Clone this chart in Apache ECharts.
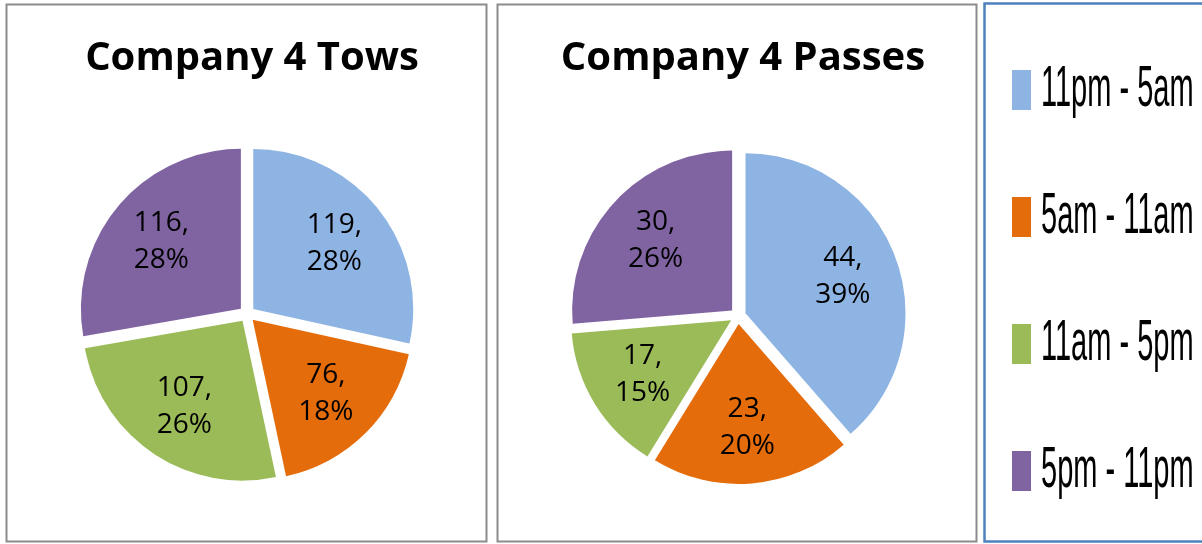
<!DOCTYPE html>
<html>
<head>
    <meta charset="utf-8">
    <title>Company 4 Tows / Passes</title>
    <script src="https://cdn.jsdelivr.net/npm/echarts@6/dist/echarts.min.js"></script>
    <style>
        html, body { margin: 0; padding: 0; background: #fff; }
        #chart-container { width: 1202px; height: 544px; }
    </style>
</head>
<body>
<div id="chart-container"></div>
<script>
    // data
    var categories = ['11pm - 5am', '5am - 11am', '11am - 5pm', '5pm - 11pm'];
    var towsValues = [119, 76, 107, 116];
    var passesValues = [44, 23, 17, 30];
    var titles = ['Company 4 Tows', 'Company 4 Passes'];

    var colors = ['#8eb4e3', '#e46c0a', '#9bbb59', '#8064a2'];
    var myChart = echarts.init(document.getElementById('chart-container'));

    function toData(values, transparent) {
        return values.map(function (v, i) {
            return {
                name: categories[i],
                value: v,
                selected: true,
                itemStyle: { color: transparent ? 'rgba(0,0,0,0)' : colors[i] }
            };
        });
    }

    // colored pie + invisible ring that only carries the labels
    function pieSeries(values, center) {
        var common = {
            type: 'pie',
            center: center,
            startAngle: 90,
            clockwise: true,
            selectedMode: 'multiple',
            selectedOffset: 8,
            percentPrecision: 0,
            animation: false,
            emphasis: { disabled: true },
            labelLine: { show: false }
        };
        return [
            Object.assign({}, common, {
                radius: [0, 160],
                label: { show: false },
                data: toData(values, false)
            }),
            Object.assign({}, common, {
                radius: [42, 160],
                silent: true,
                label: {
                    show: true,
                    position: 'inside',
                    formatter: '{c},\n{d}%',
                    color: '#000',
                    fontFamily: 'Open Sans',
                    fontSize: 28,
                    lineHeight: 37
                },
                data: toData(values, true)
            })
        ];
    }

    // legend drawn as graphic so the text can be squeezed like the original
    var legendItems = [];
    categories.forEach(function (name, i) {
        var cy = 90 + i * 127;
        legendItems.push({
            type: 'rect',
            shape: { x: 1012, y: cy - 20, width: 19, height: 40 },
            style: { fill: colors[i] }
        });
        legendItems.push({
            type: 'text',
            x: 1041,
            y: cy,
            scaleX: 0.5,
            style: {
                text: name,
                fill: '#000',
                fontFamily: 'Liberation Sans',
                fontSize: 58,
                textVerticalAlign: 'middle'
            }
        });
    });

    var option = {
        backgroundColor: '#fff',
        title: [
            {
                text: titles[0], left: 247, top: 34, textAlign: 'center',
                textStyle: { fontFamily: 'Open Sans', fontWeight: 'bold', fontSize: 40, color: '#000' }
            },
            {
                text: titles[1], left: 738, top: 34, textAlign: 'center',
                textStyle: { fontFamily: 'Open Sans', fontWeight: 'bold', fontSize: 40, color: '#000' }
            }
        ],
        graphic: [
            { type: 'rect', shape: { x: 6.5, y: 4.5, width: 480, height: 537 }, style: { fill: 'none', stroke: '#8c8c8c', lineWidth: 2 } },
            { type: 'rect', shape: { x: 497.5, y: 4.5, width: 479, height: 537 }, style: { fill: 'none', stroke: '#8c8c8c', lineWidth: 2 } },
            { type: 'rect', shape: { x: 984.5, y: 3.5, width: 230, height: 538 }, style: { fill: 'none', stroke: '#4f81bd', lineWidth: 2.5 } }
        ].concat(legendItems),
        series: pieSeries(towsValues, [247, 314]).concat(pieSeries(passesValues, [738, 316]))
    };

    myChart.setOption(option);
</script>
</body>
</html>
